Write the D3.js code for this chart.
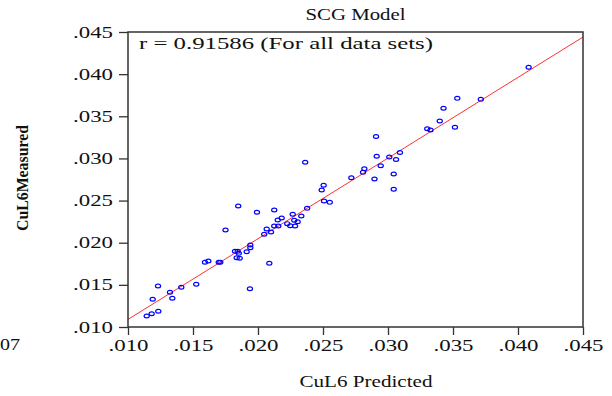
<!DOCTYPE html>
<html>
<head>
<meta charset="utf-8">
<script src="https://cdn.jsdelivr.net/npm/d3@7"></script>
<style>
  body { margin: 0; background: #fff; }
  text { font-family: 'Liberation Serif', 'Times New Roman', serif; fill: #111; }
</style>
</head>
<body>
<div id="chart"></div>
<script>
// data
let predicted = [
  0.01144, 0.01182, 0.01233, 0.0119, 0.01231, 0.01323, 0.01341, 0.0141, 0.01525, 0.01592,
  0.01618, 0.01698, 0.0171, 0.01823, 0.01844, 0.01852, 0.01836, 0.01859, 0.01913, 0.01941,
  0.01941, 0.01938, 0.02087, 0.02048, 0.021, 0.02067, 0.02125, 0.02156, 0.02182, 0.02152,
  0.02225, 0.02248, 0.02285, 0.02279, 0.02305, 0.02267, 0.02333, 0.02378, 0.02508, 0.02552,
  0.02125, 0.01992, 0.01848, 0.0175, 0.02505, 0.0249, 0.02363, 0.02718, 0.02808, 0.02818,
  0.02896, 0.02944, 0.02913, 0.02908, 0.0301, 0.03062, 0.03092, 0.03044, 0.03044, 0.03302,
  0.03327, 0.03398, 0.03427, 0.03533, 0.03515, 0.03714, 0.04082
]
let measured = [
  0.01131, 0.01158, 0.01186, 0.01329, 0.01486, 0.01412, 0.01341, 0.01471, 0.01507, 0.01768,
  0.01783, 0.01768, 0.01768, 0.01898, 0.01898, 0.01874, 0.01822, 0.01815, 0.01893, 0.01941,
  0.01973, 0.01454, 0.01756, 0.021, 0.02127, 0.02163, 0.02198, 0.02198, 0.02293, 0.02269,
  0.02226, 0.02202, 0.02198, 0.02266, 0.02249, 0.02337, 0.02317, 0.02408, 0.02495, 0.02479,
  0.02388, 0.02361, 0.02436, 0.02151, 0.02681, 0.02625, 0.02955, 0.02771, 0.02835, 0.02878,
  0.02756, 0.02914, 0.03025, 0.0326, 0.03017, 0.02987, 0.0307, 0.02815, 0.02634, 0.03353,
  0.03337, 0.03444, 0.03596, 0.03713, 0.0337, 0.03701, 0.04081
]

// fitted line end points
let fitX = [0.010, 0.045]
let fitY = [0.0109, 0.0444]

let tickValues = [0.010, 0.015, 0.020, 0.025, 0.030, 0.035, 0.040, 0.045]

let title = 'SCG Model'
let note = 'r = 0.91586 (For all data sets)'
let xLabel = 'CuL6 Predicted'
let yLabel = 'CuL6Measured'

let margin = { top: 32, left: 128, right: 29, bottom: 69 }
let width = 612 - margin.left - margin.right
let height = 396 - margin.top - margin.bottom

let root = d3
  .select('#chart')
  .append('svg')
  .attr('width', 612)
  .attr('height', 396)

let svg = root
  .append('g')
  .attr('transform', 'translate(' + margin.left + ',' + margin.top + ')')

let xPositionScale = d3.scaleLinear().domain([0.010, 0.045]).range([0, width])
let yPositionScale = d3.scaleLinear().domain([0.010, 0.045]).range([height, 0])

let fmt = d => d3.format('.3f')(d).replace(/^0/, '')

let xAxis = d3
  .axisBottom(xPositionScale)
  .tickValues(tickValues)
  .tickFormat(fmt)
  .tickSize(8)
  .tickPadding(5)

let yAxis = d3
  .axisLeft(yPositionScale)
  .tickValues(tickValues)
  .tickFormat(fmt)
  .tickSize(9)
  .tickPadding(6)

svg
  .append('g')
  .attr('class', 'axis x-axis')
  .attr('transform', 'translate(0,' + height + ')')
  .call(xAxis)

svg
  .append('g')
  .attr('class', 'axis y-axis')
  .call(yAxis)

svg.selectAll('.axis .domain').remove()
svg.selectAll('.axis line').attr('stroke', '#333').attr('stroke-width', 1.3)
// the original type is wide and stretched
svg
  .selectAll('.axis text')
  .attr('font-size', 16)
  .attr('fill', '#111')
  .attr('textLength', 40)
  .attr('lengthAdjust', 'spacingAndGlyphs')
  .style('font-family', "'Liberation Serif', serif")

svg
  .append('clipPath')
  .attr('id', 'clip')
  .append('rect')
  .attr('width', width)
  .attr('height', height)

let line = d3
  .line()
  .x(d => xPositionScale(d[0]))
  .y(d => yPositionScale(d[1]))

svg
  .append('path')
  .datum(d3.zip(fitX, fitY))
  .attr('d', line)
  .attr('clip-path', 'url(#clip)')
  .attr('fill', 'none')
  .attr('stroke', '#ff3030')
  .attr('stroke-width', 1)

svg
  .selectAll('.pt')
  .data(d3.zip(predicted, measured))
  .enter()
  .append('ellipse')
  .attr('class', 'pt')
  .attr('cx', d => xPositionScale(d[0]))
  .attr('cy', d => yPositionScale(d[1]))
  .attr('rx', 2.6)
  .attr('ry', 1.9)
  .attr('fill', 'none')
  .attr('stroke', '#0000ff')
  .attr('stroke-width', 1.2)

// frame
svg
  .append('rect')
  .attr('width', width)
  .attr('height', height)
  .attr('fill', 'none')
  .attr('stroke', '#333')
  .attr('stroke-width', 1.5)

svg
  .append('text')
  .attr('x', 11)
  .attr('y', 17)
  .attr('font-size', 16)
  .attr('textLength', 294)
  .attr('lengthAdjust', 'spacingAndGlyphs')
  .text(note)

root
  .append('text')
  .attr('x', margin.left + width / 2)
  .attr('y', 20)
  .attr('text-anchor', 'middle')
  .attr('font-size', 16)
  .attr('textLength', 100)
  .attr('lengthAdjust', 'spacingAndGlyphs')
  .text(title)

root
  .append('text')
  .attr('x', 366)
  .attr('y', 387)
  .attr('text-anchor', 'middle')
  .attr('font-size', 16)
  .attr('textLength', 133)
  .attr('lengthAdjust', 'spacingAndGlyphs')
  .text(xLabel)

root
  .append('text')
  .attr('transform', 'translate(28,178) rotate(-90)')
  .attr('text-anchor', 'middle')
  .attr('font-size', 17)
  .attr('font-weight', 'bold')
  .attr('textLength', 106)
  .attr('lengthAdjust', 'spacingAndGlyphs')
  .text(yLabel)

// clipped label from a neighbouring panel
root
  .append('text')
  .attr('x', 20)
  .attr('y', 350)
  .attr('text-anchor', 'end')
  .attr('font-size', 16)
  .attr('textLength', 20)
  .attr('lengthAdjust', 'spacingAndGlyphs')
  .text('07')
</script>
</body>
</html>
